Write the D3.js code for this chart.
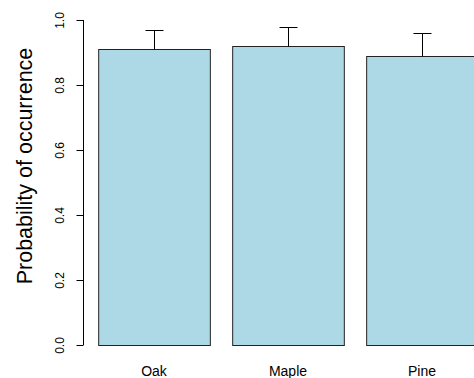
<!DOCTYPE html>
<html>
<head>
<meta charset="utf-8">
<script src="https://cdn.jsdelivr.net/npm/d3@7"></script>
<style>
html,body{margin:0;padding:0;background:#fff;}
svg{display:block;font-family:"Liberation Sans",Arial,Helvetica,sans-serif;}
</style>
</head>
<body>
<svg id="chart" width="474" height="378"></svg>
<script>
const categories = ["Oak", "Maple", "Pine"];
const probValues = [0.91, 0.92, 0.89];
const upperValues = [0.97, 0.98, 0.96];
const yTicks = [0.0, 0.2, 0.4, 0.6, 0.8, 1.0];
const yLabel = "Probability of occurrence";

const svg = d3.select("#chart");

// R barplot user coordinates: bar i spans [0.2 + 1.2 i, 1.2 + 1.2 i]
const x = d3.scaleLinear().domain([0.064, 3.736]).range([83, 493]);
const y = d3.scaleLinear().domain([0, 1]).range([345, 20]);

const barData = categories.map((c, i) => ({
  cat: c, v: probValues[i], up: upperValues[i],
  l: 0.2 + 1.2 * i, r: 1.2 + 1.2 * i
}));

// bars
svg.append("g").selectAll("rect").data(barData).join("rect")
  .attr("x", d => x(d.l) + 0.5)
  .attr("y", d => Math.round(y(d.v)) + 0.5)
  .attr("width", d => x(d.r) - x(d.l))
  .attr("height", d => y(0) - Math.round(y(d.v)))
  .attr("fill", "#ADD8E6")
  .attr("stroke", "#222")
  .attr("stroke-width", 1);

// error bars (upper only)
const eb = svg.append("g").attr("stroke", "#000").attr("stroke-width", 1);
barData.forEach(d => {
  const cx = Math.round(x((d.l + d.r) / 2)) + 0.5;
  eb.append("line").attr("x1", cx).attr("x2", cx)
    .attr("y1", Math.round(y(d.v)) + 0.5).attr("y2", Math.round(y(d.up)) + 0.5);
  eb.append("line").attr("x1", cx - 9).attr("x2", cx + 9)
    .attr("y1", Math.round(y(d.up)) + 0.5).attr("y2", Math.round(y(d.up)) + 0.5);
});

// y axis
const yAxis = d3.axisLeft(y).tickValues(yTicks).tickFormat(d3.format(".1f")).tickSize(7).tickPadding(0);
const ga = svg.append("g").attr("transform", "translate(83.5,0)").call(yAxis);
ga.select(".domain").attr("d", `M0,${y(0)}V${y(1)}`).attr("stroke", "#000");
ga.selectAll(".tick line").attr("stroke", "#000");
ga.selectAll(".tick text")
  .attr("x", 0).attr("y", 0).attr("dy", null)
  .attr("text-anchor", "middle")
  .attr("transform", "translate(-20,0) rotate(-90)")
  .attr("font-size", 12).attr("fill", "#000")
  .attr("font-family", "Liberation Sans, Arial, sans-serif");

// category labels
svg.append("g").selectAll("text").data(barData).join("text")
  .attr("x", d => x((d.l + d.r) / 2))
  .attr("y", 375.5)
  .attr("text-anchor", "middle")
  .attr("font-size", 14)
  .attr("fill", "#000")
  .text(d => d.cat);

// y label
svg.append("text")
  .attr("transform", `translate(32,166) rotate(-90)`)
  .attr("text-anchor", "middle")
  .attr("font-size", 21.5)
  .attr("fill", "#000")
  .text(yLabel);
</script>
</body>
</html>
